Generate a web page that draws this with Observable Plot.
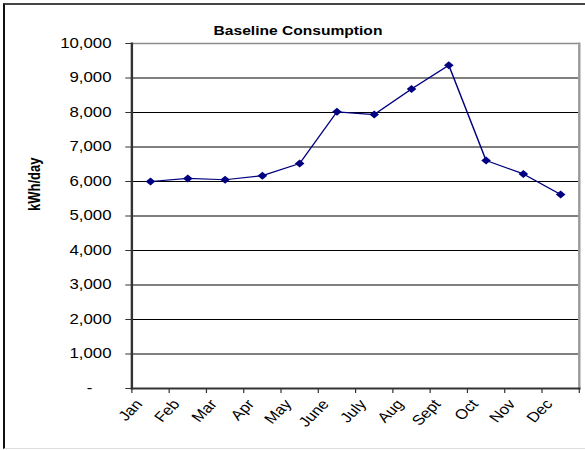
<!DOCTYPE html>
<html>
<head>
<meta charset="utf-8">
<script src="https://cdn.jsdelivr.net/npm/d3@7"></script>
<script src="https://cdn.jsdelivr.net/npm/@observablehq/plot@0.6"></script>
<style>
  html, body { margin: 0; padding: 0; background: #fff; }
  #wrap { position: relative; width: 585px; height: 450px; overflow: hidden; }
  #border { position: absolute; left: 3px; top: 3px; width: 640px; height: 443px;
            border-left: 2px solid #111; border-top: 2px solid #444; border-bottom: 1px solid #ddd; }
  #chart { position: absolute; left: 0; top: 0; }
  #chart svg { transform: scaleX(1.2); transform-origin: 0 0; display: block; }
</style>
</head>
<body>
<div id="wrap"><div id="border"></div><div id="chart"></div></div>
<script>
const title = "Baseline Consumption";
const yLabel = "kWh/day";
const months = ["Jan","Feb","Mar","Apr","May","June","July","Aug","Sept","Oct","Nov","Dec"];
const consumption = [6000, 6090, 6050, 6170, 6520, 8020, 7940, 8680, 9370, 6610, 6220, 5620];
const yTicks = [1000, 2000, 3000, 4000, 5000, 6000, 7000, 8000, 9000, 10000];
const gridLines = [1000, 2000, 3000, 4000, 5000, 6000, 7000, 8000, 9000];
const yMax = 10000;

const data = months.map((m, i) => ({month: m, i, kwh: consumption[i]}));
const boundaries = months.map((m, i) => i - 0.5).concat([months.length - 0.5]);

const plot = Plot.plot({
  width: 487.5,
  height: 450,
  marginLeft: 109.4,
  marginRight: 5.25,
  marginTop: 43,
  marginBottom: 62,
  style: {fontFamily: "'Liberation Sans', Arial, sans-serif", fontSize: "14px", color: "#000", background: "transparent"},
  x: {type: "linear", domain: [-0.5, months.length - 0.5], axis: null},
  y: {domain: [0, yMax], axis: null},
  marks: [
    Plot.ruleY(gridLines, {stroke: "#000", strokeWidth: 1.2}),
    Plot.ruleY([yMax], {stroke: "#8c8c8c", strokeWidth: 1.5}),
    Plot.frame({anchor: "right", stroke: "#9a9a9a", strokeWidth: 2}),
    Plot.axisY({ticks: yTicks, label: null, tickSize: 5, tickPadding: 12, tickFormat: d3.format(","), stroke: "#333", fill: "#000"}),
    Plot.axisY({ticks: [0], label: null, tickSize: 5, tickPadding: 28, tickFormat: () => "-", stroke: "#333", fill: "#000"}),
    Plot.axisX({ticks: boundaries, label: null, tickSize: 5, tickFormat: () => "", stroke: "#333"}),
    Plot.frame({anchor: "left", stroke: "#333", strokeWidth: 2}),
    Plot.frame({anchor: "bottom", stroke: "#333", strokeWidth: 2}),
    Plot.line(data, {x: "i", y: "kwh", stroke: "#000080", strokeWidth: 1.2}),
    Plot.dot(data, {x: "i", y: "kwh", symbol: "diamond2", r: 3.6, fill: "#000080", stroke: "none"}),
    Plot.text(data, {x: "i", text: "month", frameAnchor: "bottom", textAnchor: "end", rotate: -50, dx: -6, dy: 16, fill: "#000"}),
    Plot.text([title], {frameAnchor: "top", lineAnchor: "bottom", dx: -48, dy: -9, fontWeight: "bold", fontSize: 13, fill: "#000"}),
    Plot.text([yLabel], {frameAnchor: "left", rotate: -90, dx: -81, dy: -5, fontWeight: "bold", fontSize: 13, fill: "#000"})
  ]
});
document.getElementById("chart").appendChild(plot);
</script>
</body>
</html>
